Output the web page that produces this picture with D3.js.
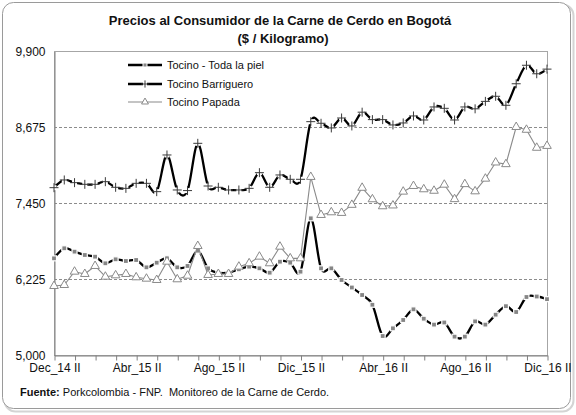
<!DOCTYPE html>
<html>
<head>
<meta charset="utf-8">
<script src="https://cdn.jsdelivr.net/npm/d3@7"></script>
<style>
  body { margin: 0; background: #fff; }
  text { font-family: "Liberation Sans", Arial, sans-serif; }
</style>
</head>
<body>
<script>
// half-month periods, Dec 2014 II .. Dic 2016 II
const periods = [
  "Dec_14 II",
  "Ene_15 I", "Ene_15 II", "Feb_15 I", "Feb_15 II", "Mar_15 I", "Mar_15 II", "Abr_15 I", "Abr_15 II",
  "May_15 I", "May_15 II", "Jun_15 I", "Jun_15 II", "Jul_15 I", "Jul_15 II", "Ago_15 I", "Ago_15 II",
  "Sep_15 I", "Sep_15 II", "Oct_15 I", "Oct_15 II", "Nov_15 I", "Nov_15 II", "Dic_15 I", "Dic_15 II",
  "Ene_16 I", "Ene_16 II", "Feb_16 I", "Feb_16 II", "Mar_16 I", "Mar_16 II", "Abr_16 I", "Abr_16 II",
  "May_16 I", "May_16 II", "Jun_16 I", "Jun_16 II", "Jul_16 I", "Jul_16 II", "Ago_16 I", "Ago_16 II",
  "Sep_16 I", "Sep_16 II", "Oct_16 I", "Oct_16 II", "Nov_16 I", "Nov_16 II", "Dic_16 I", "Dic_16 II"
];
// labels shown on the x axis
const xLabels = ["Dec_14 II", "Abr_15 II", "Ago_15 II", "Dic_15 II", "Abr_16 II", "Ago_16 II", "Dic_16 II"];

const tocinoPiel = [
  6558, 6720, 6666, 6612, 6585, 6478, 6542, 6515, 6531, 6413, 6488, 6558, 6413, 6435, 6681, 6397,
  6327, 6327, 6381, 6424, 6397, 6327, 6504, 6488, 6343, 7203, 6397, 6397, 6209, 6088, 5967, 5810,
  5306, 5430, 5564, 5736, 5585, 5490, 5524, 5296, 5296, 5542, 5490, 5650, 5787, 5693, 5935, 5943, 5900
];
const tocinoBarriguero = [
  7697, 7821, 7778, 7751, 7751, 7794, 7703, 7686, 7767, 7767, 7633, 8224, 7660, 7650, 8412, 7724,
  7703, 7660, 7660, 7686, 7939, 7703, 7902, 7832, 7832, 8761, 8735, 8660, 8820, 8692, 8914, 8794,
  8794, 8708, 8740, 8853, 8788, 8998, 8976, 8788, 8998, 8968, 9088, 9170, 9025, 9372, 9670, 9533, 9608
];
const tocinoPapada = [
  6112, 6128, 6343, 6306, 6435, 6262, 6284, 6306, 6252, 6230, 6209, 6504, 6220, 6278, 6757, 6290,
  6306, 6306, 6424, 6478, 6585, 6478, 6746, 6558, 6558, 7870, 7257, 7300, 7290, 7420, 7695, 7510,
  7397, 7410, 7633, 7724, 7671, 7647, 7745, 7512, 7754, 7638, 7842, 8103, 8076, 8675, 8630, 8340, 8370
];
const seriesNames = ["Tocino - Toda la piel", "Tocino Barriguero", "Tocino Papada"];
const yTicks = [5000, 6225, 7450, 8675, 9900];

const W = 576, H = 415;
const plot = { left: 54, right: 547, top: 51, bottom: 355 };

const svg = d3.select("body").append("svg")
  .attr("width", W)
  .attr("height", H);

// outer frame with soft shadow
svg.append("rect")
  .attr("x", 4.5).attr("y", 4.5)
  .attr("width", 569).attr("height", 407)
  .attr("rx", 11)
  .attr("fill", "none")
  .attr("stroke", "#d4d4d4")
  .attr("stroke-width", 2);
svg.append("rect")
  .attr("x", 2.5).attr("y", 2.5)
  .attr("width", 568).attr("height", 406)
  .attr("rx", 11)
  .attr("fill", "#fff")
  .attr("stroke", "#9a9a9a");

const x = d3.scaleLinear().domain([0, periods.length - 1]).range([plot.left, plot.right]);
const y = d3.scaleLinear().domain([yTicks[0], yTicks[yTicks.length - 1]]).range([plot.bottom, plot.top]);

// title
svg.append("text")
  .attr("x", 280).attr("y", 25)
  .attr("text-anchor", "middle")
  .attr("font-size", "13px").attr("font-weight", "bold")
  .attr("fill", "#111")
  .text("Precios al Consumidor de la Carne de Cerdo en Bogotá");
svg.append("text")
  .attr("x", 283).attr("y", 43)
  .attr("text-anchor", "middle")
  .attr("font-size", "13px").attr("font-weight", "bold")
  .attr("fill", "#111")
  .text("($ / Kilogramo)");

// gridlines (inner ticks only)
svg.append("g")
  .selectAll("line")
  .data(yTicks.slice(1, -1))
  .enter()
  .append("line")
  .attr("x1", plot.left).attr("x2", plot.right)
  .attr("y1", d => Math.round(y(d)) + 0.5)
  .attr("y2", d => Math.round(y(d)) + 0.5)
  .attr("stroke", "#8c8c8c")
  .attr("stroke-dasharray", "3,2");

// plot border
svg.append("rect")
  .attr("x", plot.left + 0.5).attr("y", plot.top + 0.5)
  .attr("width", plot.right - plot.left).attr("height", plot.bottom - plot.top)
  .attr("fill", "none")
  .attr("stroke", "#a6a6a6");

// y axis
const yAxis = svg.append("g")
  .attr("transform", "translate(" + (plot.left + 0.5) + ",0.5)")
  .call(d3.axisLeft(y).tickValues(yTicks).tickFormat(d3.format(",")).tickSize(0).tickPadding(9));
yAxis.select(".domain").attr("stroke", "#808080");
yAxis.selectAll("text").attr("font-size", "12px").attr("fill", "#111")
  .attr("font-family", "\"Liberation Sans\", Arial, sans-serif");

// x axis
const xAxis = svg.append("g")
  .attr("transform", "translate(0.5," + (plot.bottom + 0.5) + ")")
  .call(d3.axisBottom(x)
    .tickValues(d3.range(0, periods.length, 2))
    .tickFormat(i => xLabels.includes(periods[i]) ? periods[i] : "")
    .tickSizeInner(5).tickSizeOuter(0).tickPadding(3));
xAxis.select(".domain").attr("stroke", "#808080");
xAxis.selectAll(".tick line").attr("stroke", "#808080");
xAxis.selectAll("text").attr("font-size", "12px").attr("fill", "#111")
  .attr("font-family", "\"Liberation Sans\", Arial, sans-serif");

// source
const src = svg.append("text")
  .attr("x", 20).attr("y", 396)
  .attr("font-size", "11px").attr("fill", "#111");
src.append("tspan").attr("font-weight", "bold").text("Fuente:");
src.append("tspan").text(" Porkcolombia - FNP.  Monitoreo de la Carne de Cerdo.")
  .attr("xml:space", "preserve");

// markers, k = scale factor (legend uses smaller ones)
function drawSquare(g, k) {
  const s = 5 * k;
  g.append("rect")
    .attr("x", -s / 2).attr("y", -s / 2)
    .attr("width", s).attr("height", s)
    .attr("fill", "#858585")
    .attr("stroke", "#fff")
    .attr("stroke-width", 1.2 * k);
}
function drawPlus(g, k) {
  const a = 4.5 * k;
  g.append("rect")
    .attr("x", -2.5 * k).attr("y", -2.5 * k)
    .attr("width", 5 * k).attr("height", 5 * k)
    .attr("fill", "#fff");
  g.append("path")
    .attr("d", "M" + -a + ",0H" + a + "M0," + -a + "V" + a)
    .attr("stroke", "#3a3a3a")
    .attr("stroke-width", 1)
    .attr("fill", "none");
}
function drawTriangle(g, k) {
  g.append("path")
    .attr("d", d3.symbol(d3.symbolTriangle, 32 * k * k)())
    .attr("fill", "#fff")
    .attr("stroke", "#8a8a8a")
    .attr("stroke-width", 1);
}

const series = [
  { name: seriesNames[0], values: tocinoPiel, color: "#000", width: 2.3, curve: d3.curveCardinal.tension(0), marker: drawSquare },
  { name: seriesNames[1], values: tocinoBarriguero, color: "#000", width: 2.3, curve: d3.curveCardinal.tension(0), marker: drawPlus },
  { name: seriesNames[2], values: tocinoPapada, color: "#8a8a8a", width: 1.1, curve: d3.curveLinear, marker: drawTriangle }
];

series.forEach(s => {
  const line = d3.line()
    .x((d, i) => x(i))
    .y(d => y(d))
    .curve(s.curve);
  const g = svg.append("g");
  g.append("path")
    .datum(s.values)
    .attr("d", line)
    .attr("fill", "none")
    .attr("stroke", s.color)
    .attr("stroke-width", s.width)
    .attr("stroke-linejoin", "round");
  g.selectAll(".mk")
    .data(s.values)
    .enter()
    .append("g")
    .attr("class", "mk")
    .attr("transform", (d, i) => "translate(" + x(i) + "," + y(d) + ")")
    .each(function() { s.marker(d3.select(this), 1); });
});

// legend
const legend = svg.append("g").attr("transform", "translate(128,65)");
series.forEach((s, k) => {
  const row = legend.append("g").attr("transform", "translate(0," + Math.round(k * 18.5) + ")");
  row.append("line")
    .attr("x1", 0).attr("x2", 34)
    .attr("stroke", s.color)
    .attr("stroke-width", s.width);
  const m = row.append("g").attr("transform", "translate(17,0)");
  s.marker(m, 0.8);
  row.append("text")
    .attr("x", 39).attr("y", 4)
    .attr("font-size", "11px").attr("fill", "#111")
    .text(s.name);
});
</script>
</body>
</html>
